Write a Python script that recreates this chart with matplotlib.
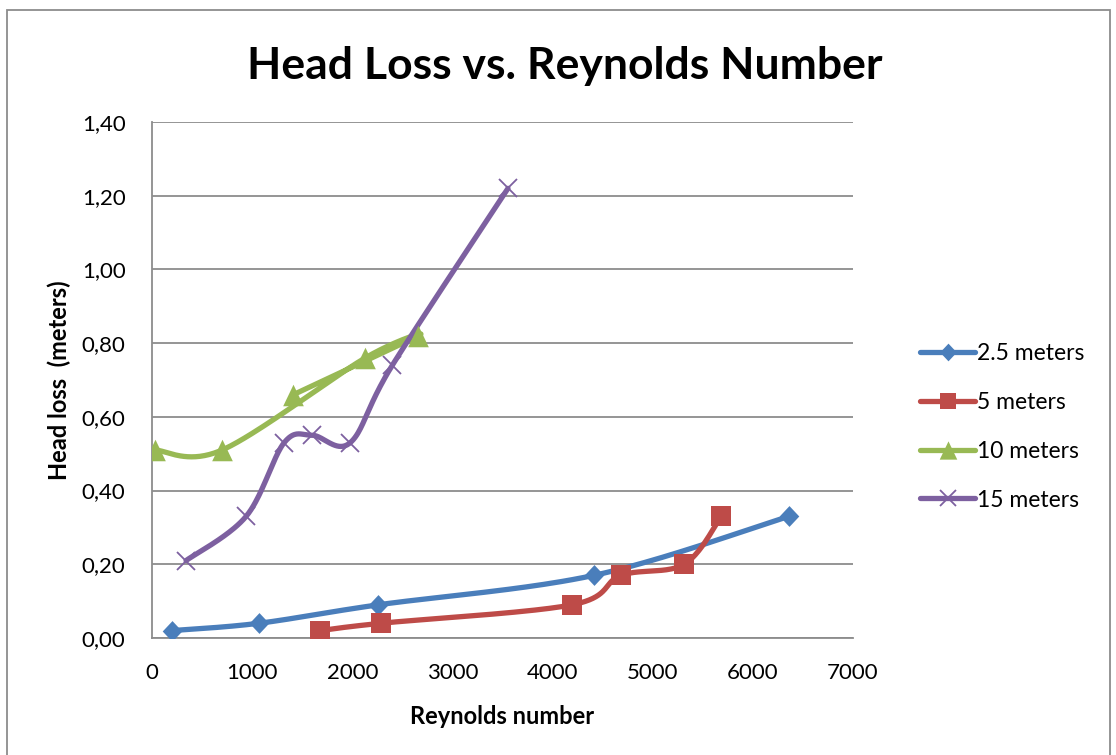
import matplotlib
matplotlib.use("Agg")
import matplotlib.pyplot as plt
import numpy as np
from matplotlib.lines import Line2D
from matplotlib.patches import Rectangle

plt.rcParams['font.family'] = ['Lato', 'DejaVu Sans']

# data
labels = ['2.5 meters', '5 meters', '10 meters', '15 meters']
re_25 = [200, 1070, 2260, 4415, 6360]
hl_25 = [0.02, 0.04, 0.09, 0.17, 0.33]
re_5 = [1680, 2290, 4195, 4685, 5315, 5685]
hl_5 = [0.02, 0.04, 0.09, 0.17, 0.20, 0.33]
re_10 = [30, 700, 2130, 2660, 1410]
hl_10 = [0.51, 0.51, 0.76, 0.82, 0.66]
re_15 = [340, 940, 1320, 1600, 1980, 2400, 3555]
hl_15 = [0.21, 0.33, 0.53, 0.55, 0.53, 0.74, 1.22]

colors = ['#4A7EBB', '#BE4B48', '#98B954', '#7D60A0']

# excel-like marker shapes
diamond = [(0, 0.5), (0.47, 0), (0, -0.5), (-0.47, 0), (0, 0.5)]
triangle = [(-0.48, -0.5), (0.48, -0.5), (0, 0.5), (-0.48, -0.5)]
markers = [diamond, 's', triangle, 'x']
msizes = [15, 14, 15.5, 13.5]

xmax, ymax = 7000, 1.4

fig = plt.figure(figsize=(11.16, 7.55), dpi=100)
ax = fig.add_axes([0.1362, 0.1550, 0.6281, 0.6834])
ax.set_xlim(0, xmax)
ax.set_ylim(0, ymax)

# axes size in pixels, smoothing is done in screen space like excel
W = fig.get_figwidth() * fig.dpi * 0.6281
H = fig.get_figheight() * fig.dpi * 0.6834


def smooth(xs, ys, n=40):
    # catmull-rom style bezier through the points
    p = np.column_stack([np.array(xs) / xmax * W, np.array(ys) / ymax * H])
    pts = []
    for i in range(len(p) - 1):
        p0 = p[i - 1] if i > 0 else p[i]
        p3 = p[i + 2] if i + 2 < len(p) else p[i + 1]
        p1, p2 = p[i], p[i + 1]
        c1 = p1 + (p2 - p0) / 6
        c2 = p2 - (p3 - p1) / 6
        t = np.linspace(0, 1, n)[:, None]
        seg = ((1 - t) ** 3) * p1 + 3 * ((1 - t) ** 2) * t * c1 + 3 * (1 - t) * t ** 2 * c2 + t ** 3 * p2
        pts.append(seg if i == 0 else seg[1:])
    pts = np.vstack(pts)
    return pts[:, 0] / W * xmax, pts[:, 1] / H * ymax


series = [(re_25, hl_25), (re_5, hl_5), (re_10, hl_10), (re_15, hl_15)]
handles = []
for (xs, ys), c, m, ms, lab in zip(series, colors, markers, msizes, labels):
    sx, sy = smooth(xs, ys)
    ax.plot(sx, sy, color=c, lw=3.8, solid_capstyle='round', zorder=3)
    mew = 1.3 if m == 'x' else 0
    ax.plot(xs, ys, ls='none', marker=m, ms=ms, color=c, mec=c, mew=mew, zorder=4)
    handles.append(Line2D([], [], color=c, lw=3.8, marker=m, ms=ms * 0.85, mew=mew, mec=c,
                          solid_capstyle='round'))

yt = np.arange(0, 1.41, 0.2)
ax.set_yticks(yt)
ax.set_yticklabels([f'{v:.2f}'.replace('.', ',') for v in yt])
ax.set_xticks(np.arange(0, 7001, 1000))
ax.grid(axis='y', color='#8c8c8c', lw=1.3)
ax.set_axisbelow(True)
for s in ['top', 'right']:
    ax.spines[s].set_visible(False)
for s in ['left', 'bottom']:
    ax.spines[s].set_color('#8c8c8c')
    ax.spines[s].set_linewidth(1.3)
ax.tick_params(length=0, labelsize=16)
ax.tick_params(axis='x', pad=18)
ax.tick_params(axis='y', pad=19)

ax.set_title('Head Loss vs. Reynolds Number', fontsize=32, fontweight='bold', pad=31, x=0.589)
ax.set_xlabel('Reynolds number', fontsize=17, fontweight='bold', labelpad=16)
ax.set_ylabel('Head loss  (meters)', fontsize=17, fontweight='bold', labelpad=8)

fig.legend(handles, labels, loc='center left', bbox_to_anchor=(920 / 1116, 0.435), frameon=False,
           fontsize=16.5, handlelength=2.4, handletextpad=0.1, labelspacing=1.22,
           borderaxespad=0, borderpad=0)

fig.patches.append(Rectangle((7 / 1116, -0.01), 1 - 13 / 1116, 1 - 10 / 755 + 0.01,
                             transform=fig.transFigure, fill=False, ec='#8c8c8c', lw=1.3))

fig.savefig('out.png', dpi=100)
